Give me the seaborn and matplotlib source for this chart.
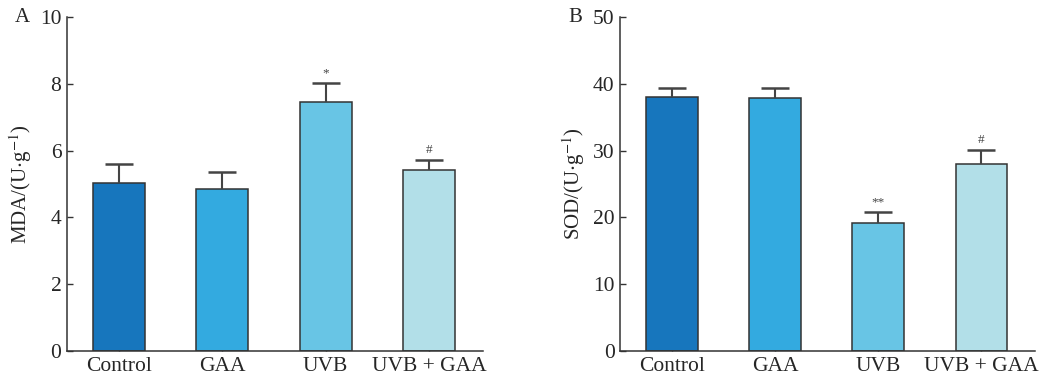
import numpy as np
import matplotlib
matplotlib.use("Agg")
import matplotlib.pyplot as plt
import seaborn as sns

# Data
groups = ["Control", "GAA", "UVB", "UVB + GAA"]
colors = ["#1776bd", "#33aae0", "#68c5e5", "#b2dfe8"]

mda_mean = [5.04, 4.86, 7.46, 5.41]
mda_err = [0.55, 0.49, 0.56, 0.30]
mda_marks = ["", "", "*", "#"]

sod_mean = [38.0, 37.9, 19.1, 27.95]
sod_err = [1.3, 1.5, 1.7, 2.15]
sod_marks = ["", "", "**", "#"]

sns.set_style("ticks")
plt.rcParams["font.family"] = ["Liberation Serif", "DejaVu Serif"]
plt.rcParams["mathtext.fontset"] = "stix"

fig = plt.figure(figsize=(10.44, 3.83), dpi=100)
ax1 = fig.add_axes([0.0642, 0.0836, 0.3984, 0.872])
ax2 = fig.add_axes([0.594, 0.0836, 0.3974, 0.872])

edge = "#333333"


def panel(ax, means, errs, marks, ymax, step, ylabel, letter):
    sns.barplot(x=groups, y=means, hue=groups, palette=colors, legend=False,
                saturation=1, width=0.5, edgecolor=edge, linewidth=1.1, ax=ax)
    xs = np.arange(len(groups))
    _, caps, _ = ax.errorbar(xs, means, yerr=[np.zeros(len(means)), errs],
                             fmt="none", ecolor="#444444", elinewidth=1.5,
                             capsize=10, capthick=1.8, zorder=1)
    caps[0].set_visible(False)  # only the upper cap
    for x, m, e, t in zip(xs, means, errs, marks):
        if t:
            ax.annotate(t, (x, m + e), xytext=(0, 3), textcoords="offset points",
                        ha="center", va="bottom", fontsize=9.5, color="#444444")
    ax.set_xlim(-0.5, 3.52)
    ax.set_ylim(0, ymax)
    ax.set_yticks(np.arange(0, ymax + 0.1, step))
    ax.set_xlabel("")
    ax.set_ylabel(ylabel, fontsize=15, labelpad=4)
    ax.tick_params(axis="both", direction="in", length=4, width=1,
                   color="#333333", labelsize=15.5, pad=4)
    for s in ["top", "right"]:
        ax.spines[s].set_visible(False)
    for s in ["left", "bottom"]:
        ax.spines[s].set_color("#333333")
        ax.spines[s].set_linewidth(1.1)
    ax.text(-0.125, 1.0, letter, transform=ax.transAxes, fontsize=15,
            ha="left", va="center")


panel(ax1, mda_mean, mda_err, mda_marks, 10, 2,
      r"MDA/(U$\cdot$g$^{-1}$)", "A")
panel(ax2, sod_mean, sod_err, sod_marks, 50, 10,
      r"SOD/(U$\cdot$g$^{-1}$)", "B")

fig.savefig("out.png", dpi=100)
